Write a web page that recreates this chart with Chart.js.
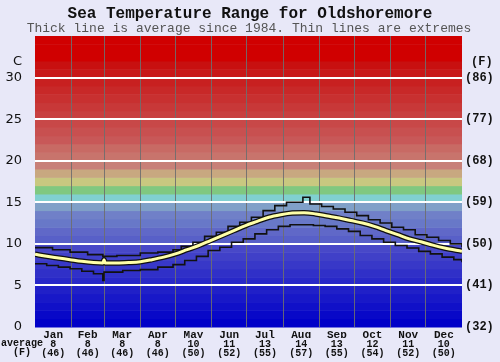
<!DOCTYPE html>
<html><head><meta charset="utf-8">
<script src="https://cdn.jsdelivr.net/npm/chart.js@4/dist/chart.umd.min.js"></script>
<style>html,body{margin:0;padding:0;background:#e8e8f8;}canvas{display:block;}</style>
</head><body>
<canvas id="c" width="500" height="362"></canvas>
<script>
// ---------- data ----------
const months = ['Jan','Feb','Mar','Apr','May','Jun','Jul','Aug','Sep','Oct','Nov','Dec'];
const monthAvgC = [8,8,8,8,10,11,13,14,13,12,11,10];
const monthAvgF = [46,46,46,46,50,52,55,57,55,54,52,50];
const monthStartDays = [0,31,59,90,120,151,181,212,243,273,304,334,365];
const yTicksC = [0,5,10,15,20,25,30];
const yTicksF = [32,41,50,59,68,77,86];

const avgDays = [0,10,20,30,40,50,58,59,60,70,80,90,100,110,120,130,140,150,160,170,180,190,200,210,220,230,240,250,260,270,280,290,300,310,320,330,340,350,365];
const avgTemp = [8.75,8.5,8.3,8.1,7.9,7.75,7.7,8.1,7.7,7.7,7.75,7.85,8.1,8.4,8.8,9.3,9.8,10.4,11.0,11.6,12.2,12.7,13.2,13.5,13.7,13.75,13.6,13.35,13.1,12.8,12.5,12.1,11.6,11.1,10.6,10.25,9.85,9.5,9.1];

const maxDays = [0,15,30,45,58,70,90,105,118,125,135,145,155,165,175,185,195,205,215,229,235,245,255,265,275,285,295,305,315,325,335,345,355,365];
const maxTemp = [9.55,9.3,9.0,8.7,8.5,8.6,8.9,9.0,9.3,9.7,10.2,10.9,11.4,12.1,12.6,13.2,14.0,14.6,15.0,15.6,14.8,14.5,14.2,13.8,13.4,12.9,12.5,12.0,11.7,11.1,10.8,10.4,10.0,9.6];

const minDays = [0,10,20,30,40,50,58,59,75,90,105,118,128,138,148,158,168,178,188,198,208,218,228,238,248,258,268,278,288,298,308,318,328,338,348,358,365];
const minTemp = [7.6,7.4,7.2,7.0,6.7,6.4,5.6,6.6,6.8,6.9,7.2,7.5,8.0,8.5,9.2,9.6,10.2,10.6,11.2,11.7,12.1,12.3,12.3,12.2,12.1,11.8,11.5,11.0,10.6,10.2,9.8,9.5,9.1,8.8,8.4,8.1,7.8];

// ---------- styles ----------
const bandColors = [
 [0,0,200],[8,8,200],[16,16,200],[24,24,200],[32,32,200],[40,40,200],[48,48,200],[56,56,200],[64,64,200],[72,72,200],
 [88,96,200],[96,104,200],[104,120,200],[112,128,200],[128,160,200],
 [128,208,208],[128,200,128],[200,200,128],[200,168,128],[200,128,120],
 [200,116,108],[200,106,100],[200,88,88],[200,80,80],[200,72,72],
 [200,64,64],[200,56,56],[200,48,48],[200,40,40],[200,32,32],
 [200,24,24],[200,16,16],[208,0,0],[208,0,0],[208,0,0]
];
const MONO = '"Liberation Mono", "Courier New", monospace';

const pts = (xs, ys) => xs.map((d, i) => ({x: d, y: ys[i]}));
const monthCenters = months.map((m, i) => (monthStartDays[i] + monthStartDays[i + 1]) / 2);

const bgPlugin = {
  id: 'bands',
  beforeDraw(chart) {
    const {ctx, chartArea: a, scales: {y}} = chart;
    ctx.save();
    bandColors.forEach((c, i) => {
      const y0 = y.getPixelForValue(i), y1 = y.getPixelForValue(i + 1);
      ctx.fillStyle = `rgb(${c[0]},${c[1]},${c[2]})`;
      ctx.fillRect(a.left, y1, a.right - a.left, y0 - y1 + 0.5);
    });
    ctx.restore();
  },
  afterDraw(chart) {
    const {ctx, chartArea: a} = chart;
    ctx.save();
    ctx.textAlign = 'center';
    ctx.textBaseline = 'alphabetic';
    ctx.fillStyle = '#111';
    ctx.font = 'bold 16px ' + MONO;
    ctx.fillText('Sea Temperature Range for Oldshoremore', 250, 18);
    ctx.fillStyle = '#555';
    ctx.font = '13px ' + MONO;
    ctx.fillText('Thick line is average since 1984. Thin lines are extremes', 249, 32);
    ctx.fillStyle = '#111';
    ctx.textBaseline = 'middle';
    ctx.textAlign = 'right';
    ctx.font = '13px "DejaVu Sans", sans-serif';
    ctx.fillText('C', 22, 62);
    ctx.textAlign = 'left';
    ctx.font = 'bold 12px ' + MONO;
    ctx.fillText('(F)', 471, 62);
    ctx.textAlign = 'left';
    ctx.font = 'bold 10px ' + MONO;
    ctx.fillText('average', 1, 343.5);
    ctx.fillText('(F)', 13, 352.5);
    ctx.restore();
  }
};

new Chart(document.getElementById('c'), {
  type: 'line',
  data: {
    datasets: [
      {data: pts(avgDays, avgTemp), borderColor: '#ffffa8', borderWidth: 3, pointRadius: 0, cubicInterpolationMode: 'monotone', order: 0},
      {data: pts(avgDays, avgTemp), borderColor: '#111', borderWidth: 5.5, pointRadius: 0, cubicInterpolationMode: 'monotone', order: 1},
      {data: pts(maxDays, maxTemp), borderColor: '#111', borderWidth: 1.6, pointRadius: 0, stepped: 'before', order: 2},
      {data: pts(minDays, minTemp), borderColor: '#111', borderWidth: 1.6, pointRadius: 0, stepped: 'before', order: 2}
    ]
  },
  options: {
    responsive: false,
    animation: false,
    devicePixelRatio: 1,
    layout: {padding: {top: 36, left: 0, right: 0, bottom: 0}},
    plugins: {legend: {display: false}, tooltip: {enabled: false}, title: {display: false}},
    scales: {
      x: {
        type: 'linear', min: 0, max: 365, position: 'bottom', weight: 0,
        afterBuildTicks: s => { s.ticks = monthStartDays.map(v => ({value: v})); },
        ticks: {display: false},
        grid: {color: c => (c.tick && (c.tick.value === 0 || c.tick.value === 365)) ? 'rgba(0,0,0,0)' : 'rgba(110,110,110,0.9)', lineWidth: 1, drawTicks: false},
        border: {display: false},
        afterFit: s => { s.height = 0; }
      },
      xm: {
        type: 'linear', min: 0, max: 365, position: 'bottom', weight: 1,
        afterBuildTicks: s => { s.ticks = monthCenters.map(v => ({value: v})); },
        ticks: {callback: (v, i) => months[i], font: {family: MONO, weight: 'bold', size: 11, lineHeight: 1}, color: '#111', padding: 3, maxRotation: 0, autoSkip: false},
        grid: {display: false, drawTicks: false},
        border: {display: false},
        afterFit: s => { s.height = 11; }
      },
      xv: {
        type: 'linear', min: 0, max: 365, position: 'bottom', weight: 2,
        afterBuildTicks: s => { s.ticks = monthCenters.map(v => ({value: v})); },
        ticks: {callback: (v, i) => [String(monthAvgC[i]), '(' + monthAvgF[i] + ')'], font: {family: MONO, weight: 'bold', size: 10, lineHeight: 0.9}, color: '#111', padding: 2, maxRotation: 0, autoSkip: false},
        grid: {display: false, drawTicks: false},
        border: {display: false},
        afterFit: s => { s.height = 24; }
      },
      y: {
        type: 'linear', min: 0, max: 35, position: 'left',
        afterBuildTicks: s => { s.ticks = yTicksC.map(v => ({value: v})); },
        ticks: {font: {family: '"DejaVu Sans", sans-serif', size: 13}, color: '#111', padding: 13},
        grid: {color: c => (c.tick && c.tick.value === 0) ? 'rgba(0,0,0,0)' : '#ffffff', lineWidth: 2, drawTicks: false},
        border: {display: false},
        afterFit: s => { s.width = 35; }
      },
      y2: {
        type: 'linear', min: 0, max: 35, position: 'right',
        afterBuildTicks: s => { s.ticks = yTicksC.map(v => ({value: v})); },
        ticks: {callback: (v, i) => '(' + yTicksF[i] + ')', font: {family: MONO, weight: 'bold', size: 12}, color: '#111', padding: 3},
        grid: {display: false, drawTicks: false},
        border: {display: false},
        afterFit: s => { s.width = 38; }
      }
    }
  },
  plugins: [bgPlugin]
});
</script>
</body></html>
